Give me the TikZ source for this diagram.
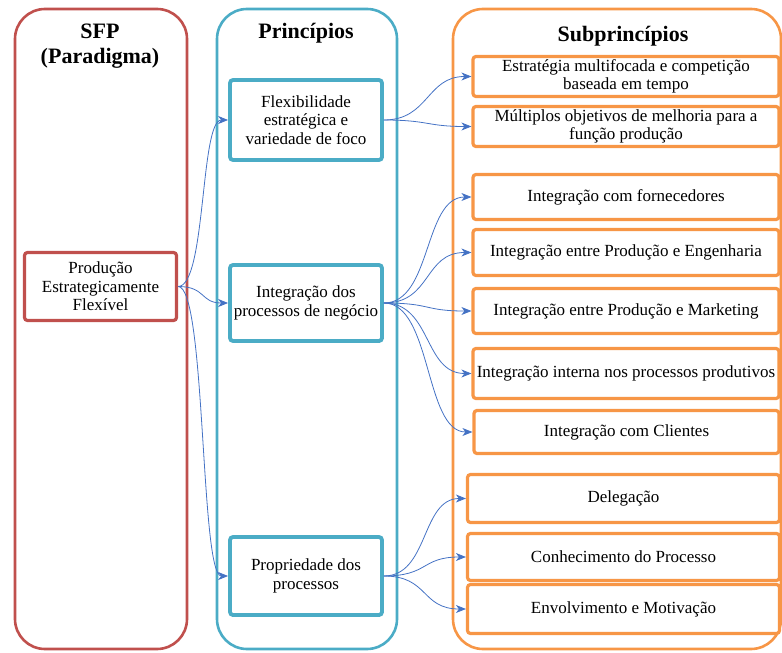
\documentclass[tikz,border=0pt]{standalone}
\usepackage{fontspec}
\setmainfont{Liberation Serif}
\usetikzlibrary{arrows.meta}
\definecolor{cred}{RGB}{192,80,77}
\definecolor{cblue}{RGB}{75,172,198}
\definecolor{corange}{RGB}{247,150,70}
\definecolor{carrow}{RGB}{68,114,196}
\begin{document}
\begin{tikzpicture}[x=1pt,y=-1pt,
  container/.style={line width=2.6pt, rounded corners=30pt},
  ibox/.style={draw, line width=3.2pt, fill=white, rounded corners=3pt, align=center,
    inner sep=1pt, font=\fontsize{17}{18.5}\selectfont},
  redbox/.style={ibox, draw=cred},
  bluebox/.style={ibox, draw=cblue, line width=3.8pt, minimum width=152pt},
  orbox/.style={ibox, draw=corange},
  title/.style={font=\fontsize{22}{24.5}\selectfont\bfseries, align=center},
  conn/.style={draw=carrow, line width=0.8pt, -{Stealth[length=10pt,width=8pt,inset=3pt]}}
]
\useasboundingbox (0,0) rectangle (782,653);
% containers
\draw[container, cred] (15,9) rectangle (187,649);
\draw[container, cblue] (217,9) rectangle (397,649);
\draw[container, corange] (453,9) rectangle (781,649);
% titles
\node[title] (t1) at (100,46) {SFP\\(Paradigma)};
\node[title] (t2) at (306,33) {Princípios};
\node[title] (t3) at (623,36) {Subprincípios};
% red
\node[redbox, minimum width=152pt, minimum height=68pt] (sfp) at (100.5,286.5) {Produção\\Estrategicamente\\Flexível};
% blue
\node[bluebox, minimum height=80pt] (p1) at (306,120) {Flexibilidade\\estratégica e\\variedade de foco};
\node[bluebox, minimum height=76pt] (p2) at (306,303) {Integração dos\\processos de negócio};
\node[bluebox, minimum height=78pt] (p3) at (306,576) {Propriedade dos\\processos};
% orange
\node[orbox, minimum width=306pt, minimum height=40pt] (s1) at (626,76.5) {Estratégia multifocada e competição\\baseada em tempo};
\node[orbox, minimum width=306pt, minimum height=40pt] (s2) at (626,126.5) {Múltiplos objetivos de melhoria para a\\função produção};
\node[orbox, minimum width=306pt, minimum height=45pt] (s3) at (626,197) {Integração com fornecedores};
\node[orbox, minimum width=306pt, minimum height=46pt] (s4) at (626,252.5) {Integração entre Produção e Engenharia};
\node[orbox, minimum width=306pt, minimum height=45pt] (s5) at (626,311) {Integração entre Produção e Marketing};
\node[orbox, minimum width=306pt, minimum height=50pt] (s6) at (626,373.5) {Integração interna nos processos produtivos};
\node[orbox, minimum width=305pt, minimum height=43pt] (s7) at (626.5,432) {Integração com Clientes};
\node[orbox, minimum width=312pt, minimum height=48pt] (s8) at (623.5,498.5) {Delegação};
\node[orbox, minimum width=312pt, minimum height=47pt] (s9) at (623.5,557) {Conhecimento do Processo};
\node[orbox, minimum width=312pt, minimum height=49pt] (s10) at (623.5,609) {Envolvimento e Motivação};
% connectors
\foreach \t in {p1,p2,p3} \draw[conn] (sfp.east) .. controls +(28,0) and +(-28,0) .. (\t.west);
\foreach \t in {s1,s2} \draw[conn] (p1.east) .. controls +(45,0) and +(-45,0) .. (\t.west);
\foreach \t in {s3,s4,s5,s6,s7} \draw[conn] (p2.east) .. controls +(48,0) and +(-48,0) .. (\t.west);
\foreach \t in {s8,s9,s10} \draw[conn] (p3.east) .. controls +(45,0) and +(-45,0) .. (\t.west);
\end{tikzpicture}
\end{document}
